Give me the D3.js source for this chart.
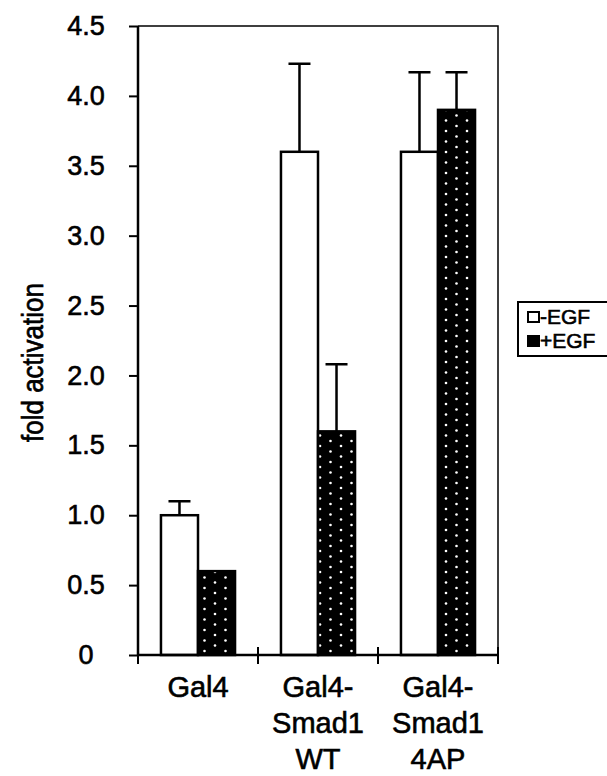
<!DOCTYPE html>
<html>
<head>
  <title>Fold activation</title>
  <style>
    body {
      margin: 0;
      background: #fff;
    }
    text {
      font-family: "Liberation Sans", Arial, sans-serif;
      fill: #000;
      stroke: #000;
      stroke-width: 0.6px;
    }
  </style>
</head>
<body>
  <svg id="chart"></svg>

  <script src="https://d3js.org/d3.v7.min.js"></script>
  <script>
    // values
    const categories = ["Gal4", "Gal4-Smad1 WT", "Gal4-Smad1 4AP"];
    const categoryLines = [["Gal4"], ["Gal4-", "Smad1", "WT"], ["Gal4-", "Smad1", "4AP"]];
    const seriesNames = ["-EGF", "+EGF"];
    const minusEGF = [1.0, 3.6, 3.6];
    const minusEGFErr = [0.1, 0.63, 0.57];
    const plusEGF = [0.6, 1.6, 3.9];
    const plusEGFErr = [0, 0.48, 0.27];
    const yTicks = [0, 0.5, 1.0, 1.5, 2.0, 2.5, 3.0, 3.5, 4.0, 4.5];

    const width = 607;
    const height = 776;
    const margin = { top: 26, right: 109, bottom: 121, left: 138 };

    const svg = d3.select("#chart")
      .attr("width", width)
      .attr("height", height);

    // dotted fill for the +EGF bars
    const pattern = svg.append("defs")
      .append("pattern")
      .attr("id", "dots")
      .attr("patternUnits", "userSpaceOnUse")
      .attr("width", 21)
      .attr("height", 21);
    pattern.append("rect").attr("width", 21).attr("height", 21).attr("fill", "#000");
    [[5, 5], [5, 15.5], [15.5, 0], [15.5, 10.5], [15.5, 21]].forEach(([cx, cy]) => {
      pattern.append("circle").attr("cx", cx).attr("cy", cy).attr("r", 1.3).attr("fill", "#fff");
    });

    const x0 = d3.scaleBand()
      .domain(categories)
      .range([margin.left, width - margin.right]);

    const x1 = d3.scaleBand()
      .domain(seriesNames)
      .range([0, x0.bandwidth()])
      .paddingOuter(0.62);

    const y = d3.scaleLinear()
      .domain([0, 4.5])
      .range([height - margin.bottom, margin.top]);

    const rows = categories.map((c, i) => [
      { cat: c, series: "-EGF", value: minusEGF[i], err: minusEGFErr[i] },
      { cat: c, series: "+EGF", value: plusEGF[i], err: plusEGFErr[i] }
    ]).flat();

    // plot area frame (top and right)
    svg.append("path")
      .attr("d", `M${margin.left},${y(4.5)}H${x0.range()[1]}V${y(0)}`)
      .attr("fill", "none")
      .attr("stroke", "#000")
      .attr("stroke-width", 1.5);

    // error bars (drawn first so the bars sit on top)
    const errRows = rows.filter((d) => d.err > 0);
    const cap = 22;
    svg.append("g")
      .selectAll("path")
      .data(errRows)
      .join("path")
      .attr("d", (d) => {
        const cx = x0(d.cat) + x1(d.series) + x1.bandwidth() / 2;
        return `M${cx},${y(d.value)}V${y(d.value + d.err)}M${cx - cap / 2},${y(d.value + d.err)}h${cap}`;
      })
      .attr("fill", "none")
      .attr("stroke", "#000")
      .attr("stroke-width", 2.5);

    // bars
    svg.append("g")
      .selectAll("rect")
      .data(rows)
      .join("rect")
      .attr("x", (d) => x0(d.cat) + x1(d.series))
      .attr("y", (d) => y(d.value))
      .attr("width", x1.bandwidth())
      .attr("height", (d) => y(0) - y(d.value))
      .attr("fill", (d) => (d.series === "-EGF" ? "#fff" : "url(#dots)"))
      .attr("stroke", "#000")
      .attr("stroke-width", 2.5);

    // y axis
    const yAxis = svg.append("g")
      .attr("transform", `translate(${margin.left},0)`)
      .call(d3.axisLeft(y)
        .tickValues(yTicks)
        .tickSize(9)
        .tickPadding(10)
        .tickFormat((d) => (d === 0 ? "0" : d3.format(".1f")(d))));
    yAxis.select(".domain").attr("stroke-width", 2.5).attr("d", `M0,${y(0)}V${y(4.5)}`);
    yAxis.selectAll(".tick line").attr("stroke-width", 2);
    yAxis.selectAll(".tick text")
      .attr("font-size", 27)
      .attr("text-anchor", "middle")
      .attr("x", -52);

    // x axis: ticks at category boundaries
    const bounds = categories.map((c) => x0(c)).concat([x0.range()[1]]);
    const xAxis = svg.append("g");
    xAxis.append("line")
      .attr("x1", margin.left)
      .attr("x2", x0.range()[1])
      .attr("y1", y(0))
      .attr("y2", y(0))
      .attr("stroke", "#000")
      .attr("stroke-width", 2.5);
    xAxis.selectAll(".btick")
      .data(bounds)
      .join("line")
      .attr("class", "btick")
      .attr("x1", (d) => d)
      .attr("x2", (d) => d)
      .attr("y1", y(0) - 8)
      .attr("y2", y(0) + 9)
      .attr("stroke", "#000")
      .attr("stroke-width", 2);

    xAxis.selectAll(".clabel")
      .data(categories)
      .join("text")
      .attr("class", "clabel")
      .attr("text-anchor", "middle")
      .attr("font-size", 29)
      .attr("transform", (d) => `translate(${x0(d) + x0.bandwidth() / 2},${y(0) + 42})`)
      .selectAll("tspan")
      .data((d, i) => categoryLines[i])
      .join("tspan")
      .attr("x", 0)
      .attr("y", (d, i) => i * 36)
      .text((d) => d);

    // y axis title
    svg.append("text")
      .attr("transform", `translate(43,${(y(0) + y(4.5)) / 2 + 22}) rotate(-90) scale(1,1.15)`)
      .attr("text-anchor", "middle")
      .attr("font-size", 26)
      .text("fold activation");

    // legend
    const legend = svg.append("g").attr("transform", "translate(518,302)");
    legend.append("rect")
      .attr("width", 120)
      .attr("height", 54)
      .attr("fill", "#fff")
      .attr("stroke", "#000")
      .attr("stroke-width", 2);
    const item = legend.selectAll(".item")
      .data(seriesNames)
      .join("g")
      .attr("class", "item")
      .attr("transform", (d, i) => `translate(10,${15 + i * 24})`);
    item.append("rect")
      .attr("x", 0)
      .attr("y", -5)
      .attr("width", 11)
      .attr("height", 10)
      .attr("fill", (d) => (d === "-EGF" ? "#fff" : "#000"))
      .attr("stroke", "#000")
      .attr("stroke-width", 2);
    item.append("text")
      .attr("x", 12)
      .attr("dy", "0.35em")
      .attr("font-size", 21)
      .text((d) => d);
  </script>
</body>
</html>
